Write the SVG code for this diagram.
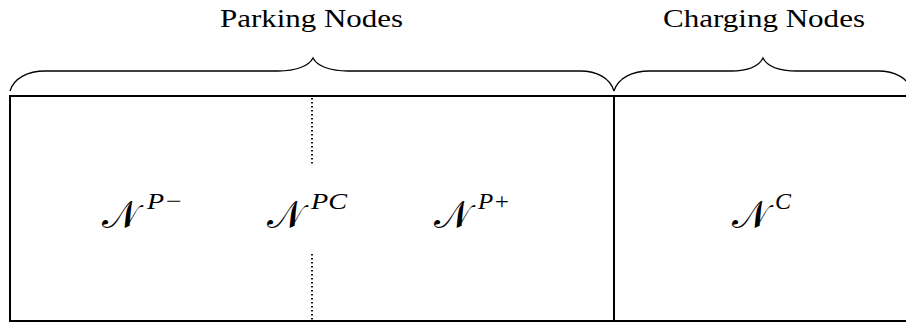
<svg xmlns="http://www.w3.org/2000/svg" width="906" height="325" viewBox="0 0 906 325">
  <style>
    .lbl { font-family: "Liberation Serif", "DejaVu Serif", serif; font-size: 25px; fill: #000; }
    .cal { font-family: "DejaVu Serif", "Liberation Serif", serif; font-size: 38px; fill: #000; }
    .sup { font-family: "Liberation Serif", serif; font-style: italic; font-size: 24px; fill: #000; }
    .brace { fill: none; stroke: #000; stroke-width: 1.3; }
    .frame { fill: none; stroke: #000; stroke-width: 2; }
    .dots { fill: none; stroke: #000; stroke-width: 1.8; stroke-dasharray: 1.6 2.4; }
  </style>
  <rect width="906" height="325" fill="#fff"/>
  <g id="labels">
    <text class="lbl" x="220" y="27" textLength="183" lengthAdjust="spacingAndGlyphs">Parking Nodes</text>
    <text class="lbl" x="663" y="27" textLength="202" lengthAdjust="spacingAndGlyphs">Charging Nodes</text>
  </g>
  <g id="braces">
    <path class="brace" d="M10,91 C14,78 28,71 45,71 L278,71 C296,71 309,66 313,58 C317,66 330,71 348,71 L580,71 C597,71 610,78 614,91"/>
    <path class="brace" d="M614,91 C618,78 632,71 650,71 L731,71 C749,71 759,66 763,58 C767,66 777,71 797,71 L878,71 C895,71 908,78 912,91"/>
  </g>
  <g id="frame">
    <line class="frame" x1="10" y1="96" x2="906" y2="96"/>
    <line class="frame" x1="10" y1="321" x2="906" y2="321"/>
    <line class="frame" x1="10" y1="95" x2="10" y2="322"/>
    <line class="frame" x1="614" y1="95" x2="614" y2="322"/>
    <line class="dots" x1="312" y1="98" x2="312" y2="164"/>
    <line class="dots" x1="312" y1="254" x2="312" y2="320"/>
  </g>
  <g id="node-pminus">
    <text class="cal" x="102" y="228">𝒩</text>
    <text class="sup" x="147" y="209" textLength="36" lengthAdjust="spacingAndGlyphs">P−</text>
  </g>
  <g id="node-pc">
    <text class="cal" x="267" y="228">𝒩</text>
    <text class="sup" x="311" y="209" textLength="36" lengthAdjust="spacingAndGlyphs">PC</text>
  </g>
  <g id="node-pplus">
    <text class="cal" x="434" y="228">𝒩</text>
    <text class="sup" x="478" y="209" textLength="32" lengthAdjust="spacingAndGlyphs">P+</text>
  </g>
  <g id="node-c">
    <text class="cal" x="732" y="228">𝒩</text>
    <text class="sup" x="775" y="209">C</text>
  </g>
</svg>
